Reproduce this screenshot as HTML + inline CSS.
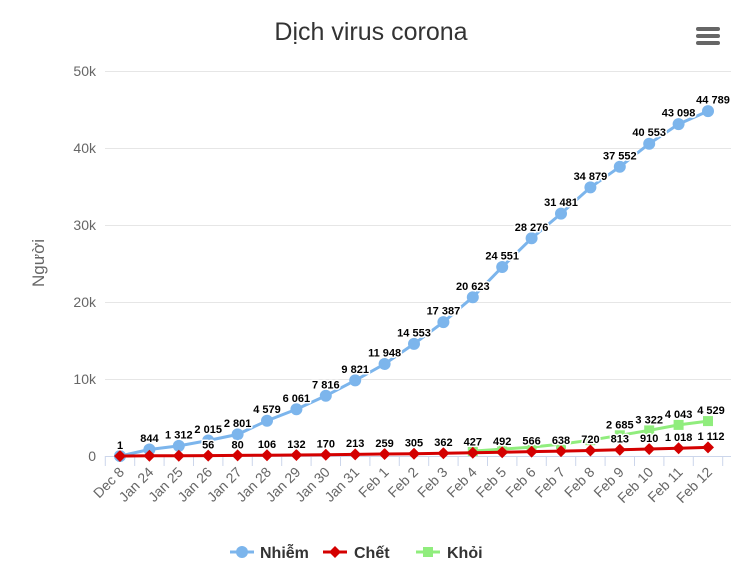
<!DOCTYPE html>
<html><head><meta charset="utf-8"><style>
body{margin:0;background:#fff;width:740px;height:576px;overflow:hidden}
svg{display:block;font-family:"Liberation Sans",sans-serif}
.dl{font-size:11px;font-weight:bold;fill:#000;stroke:#fff;stroke-width:3px;paint-order:stroke;stroke-linejoin:round;text-anchor:middle}
.yl{font-size:14px;fill:#666;text-anchor:end}
.xl{font-size:14px;fill:#666;text-anchor:end}
.lg{font-size:16px;font-weight:bold;fill:#333}
</style></head><body>
<svg width="740" height="576" viewBox="0 0 740 576">
<text x="371" y="40" text-anchor="middle" font-size="25" fill="#333">Dịch virus corona</text>
<g fill="#666"><rect x="696" y="27" width="24" height="4" rx="2"/><rect x="696" y="34" width="24" height="4" rx="2"/><rect x="696" y="41" width="24" height="4" rx="2"/></g>
<g stroke="#e6e6e6" stroke-width="1">
<line x1="105" x2="731" y1="71.5" y2="71.5"/><line x1="105" x2="731" y1="148.5" y2="148.5"/><line x1="105" x2="731" y1="225.5" y2="225.5"/><line x1="105" x2="731" y1="302.5" y2="302.5"/><line x1="105" x2="731" y1="379.5" y2="379.5"/>
</g>
<line x1="105" x2="731" y1="456.5" y2="456.5" stroke="#ccd6eb"/>
<g stroke="#ccd6eb">
<path d="M105.3 456v10M134.7 456v10M164.1 456v10M193.5 456v10M222.9 456v10M252.3 456v10M281.7 456v10M311.1 456v10M340.5 456v10M369.9 456v10M399.3 456v10M428.7 456v10M458.1 456v10M487.5 456v10M516.9 456v10M546.3 456v10M575.7 456v10M605.1 456v10M634.5 456v10M663.9 456v10M693.3 456v10M722.7 456v10"/>
</g>
<text class="yl" x="96" y="76">50k</text><text class="yl" x="96" y="153">40k</text><text class="yl" x="96" y="230">30k</text><text class="yl" x="96" y="307">20k</text><text class="yl" x="96" y="384">10k</text><text class="yl" x="96" y="461">0</text>
<text x="44" y="263" transform="rotate(-90 44 263)" text-anchor="middle" font-size="17" fill="#666">Người</text>
<g class="xl">
<text transform="translate(125,473) rotate(-45)">Dec 8</text>
<text transform="translate(154.4,473) rotate(-45)">Jan 24</text>
<text transform="translate(183.8,473) rotate(-45)">Jan 25</text>
<text transform="translate(213.2,473) rotate(-45)">Jan 26</text>
<text transform="translate(242.6,473) rotate(-45)">Jan 27</text>
<text transform="translate(272,473) rotate(-45)">Jan 28</text>
<text transform="translate(301.4,473) rotate(-45)">Jan 29</text>
<text transform="translate(330.8,473) rotate(-45)">Jan 30</text>
<text transform="translate(360.2,473) rotate(-45)">Jan 31</text>
<text transform="translate(389.6,473) rotate(-45)">Feb 1</text>
<text transform="translate(419,473) rotate(-45)">Feb 2</text>
<text transform="translate(448.4,473) rotate(-45)">Feb 3</text>
<text transform="translate(477.8,473) rotate(-45)">Feb 4</text>
<text transform="translate(507.2,473) rotate(-45)">Feb 5</text>
<text transform="translate(536.6,473) rotate(-45)">Feb 6</text>
<text transform="translate(566,473) rotate(-45)">Feb 7</text>
<text transform="translate(595.4,473) rotate(-45)">Feb 8</text>
<text transform="translate(624.8,473) rotate(-45)">Feb 9</text>
<text transform="translate(654.2,473) rotate(-45)">Feb 10</text>
<text transform="translate(683.6,473) rotate(-45)">Feb 11</text>
<text transform="translate(713,473) rotate(-45)">Feb 12</text>
</g>
<!-- blue -->
<polyline fill="none" stroke="#7cb5ec" stroke-width="3" points="120,456 149.4,449.5 178.8,445.9 208.2,440.5 237.6,434.4 267,420.7 296.4,409.3 325.8,395.8 355.2,380.4 384.6,364 414,343.9 443.4,322.1 472.8,297.2 502.2,267 531.6,238.3 561,213.6 590.4,187.4 619.8,166.8 649.2,143.7 678.6,124.1 708,111.1"/>
<g fill="#7cb5ec">
<circle cx="120" cy="456" r="6"/><circle cx="149.4" cy="449.5" r="6"/><circle cx="178.8" cy="445.9" r="6"/><circle cx="208.2" cy="440.5" r="6"/><circle cx="237.6" cy="434.4" r="6"/><circle cx="267" cy="420.7" r="6"/><circle cx="296.4" cy="409.3" r="6"/><circle cx="325.8" cy="395.8" r="6"/><circle cx="355.2" cy="380.4" r="6"/><circle cx="384.6" cy="364" r="6"/><circle cx="414" cy="343.9" r="6"/><circle cx="443.4" cy="322.1" r="6"/><circle cx="472.8" cy="297.2" r="6"/><circle cx="502.2" cy="267" r="6"/><circle cx="531.6" cy="238.3" r="6"/><circle cx="561" cy="213.6" r="6"/><circle cx="590.4" cy="187.4" r="6"/><circle cx="619.8" cy="166.8" r="6"/><circle cx="649.2" cy="143.7" r="6"/><circle cx="678.6" cy="124.1" r="6"/><circle cx="708" cy="111.1" r="6"/>
</g>
<!-- green -->
<polyline fill="none" stroke="#90ed7d" stroke-width="3" points="472.8,451.1 502.2,449.1 531.6,447.1 561,444.1 590.4,440.2 619.8,435.3 649.2,430.4 678.6,424.9 708,421.1"/>
<g fill="#90ed7d">
<rect x="467.8" y="446.1" width="10" height="10"/><rect x="497.2" y="444.1" width="10" height="10"/><rect x="526.6" y="442.1" width="10" height="10"/><rect x="556" y="439.1" width="10" height="10"/><rect x="585.4" y="435.2" width="10" height="10"/><rect x="614.8" y="430.3" width="10" height="10"/><rect x="644.2" y="425.4" width="10" height="10"/><rect x="673.6" y="419.9" width="10" height="10"/><rect x="703" y="416.1" width="10" height="10"/>
</g>
<!-- red -->
<polyline fill="none" stroke="#d40000" stroke-width="3" points="120,456 149.4,455.8 178.8,455.7 208.2,455.6 237.6,455.4 267,455.2 296.4,455 325.8,454.7 355.2,454.4 384.6,454 414,453.7 443.4,453.2 472.8,452.7 502.2,452.2 531.6,451.6 561,451.1 590.4,450.5 619.8,449.7 649.2,449 678.6,448.2 708,447.4"/>
<g fill="#d40000">
<path d="M120 450l6 6-6 6-6-6zM149.4 449.8l6 6-6 6-6-6zM178.8 449.7l6 6-6 6-6-6zM208.2 449.6l6 6-6 6-6-6zM237.6 449.4l6 6-6 6-6-6zM267 449.2l6 6-6 6-6-6zM296.4 449l6 6-6 6-6-6zM325.8 448.7l6 6-6 6-6-6zM355.2 448.4l6 6-6 6-6-6zM384.6 448l6 6-6 6-6-6zM414 447.7l6 6-6 6-6-6zM443.4 447.2l6 6-6 6-6-6zM472.8 446.7l6 6-6 6-6-6zM502.2 446.2l6 6-6 6-6-6zM531.6 445.6l6 6-6 6-6-6zM561 445.1l6 6-6 6-6-6zM590.4 444.5l6 6-6 6-6-6zM619.8 443.7l6 6-6 6-6-6zM649.2 443l6 6-6 6-6-6zM678.6 442.2l6 6-6 6-6-6zM708 441.4l6 6-6 6-6-6z"/>
</g>
<!-- labels -->
<g class="dl">
<text x="149.4" y="442">844</text><text x="178.8" y="438.5">1 312</text><text x="208.2" y="433">2 015</text><text x="237.6" y="427">2 801</text><text x="267" y="413">4 579</text><text x="296.4" y="402">6 061</text><text x="325.8" y="388.5">7 816</text><text x="355.2" y="373">9 821</text><text x="384.6" y="356.5">11 948</text><text x="414" y="336.5">14 553</text><text x="443.4" y="314.5">17 387</text><text x="472.8" y="290">20 623</text><text x="502.2" y="259.5">24 551</text><text x="531.6" y="231">28 276</text><text x="561" y="206">31 481</text><text x="590.4" y="180">34 879</text><text x="619.8" y="159.5">37 552</text><text x="649.2" y="136">40 553</text><text x="678.6" y="116.5">43 098</text><text x="713" y="103.5">44 789</text>
<text x="120" y="449">1</text><text x="208.2" y="448.5">56</text><text x="237.6" y="448.5">80</text><text x="267" y="448">106</text><text x="296.4" y="448">132</text><text x="325.8" y="447.5">170</text><text x="355.2" y="447">213</text><text x="384.6" y="447">259</text><text x="414" y="446.5">305</text><text x="443.4" y="446">362</text><text x="472.8" y="445.5">427</text><text x="502.2" y="445">492</text><text x="531.6" y="444.5">566</text><text x="561" y="444">638</text><text x="590.4" y="443">720</text><text x="619.8" y="442.5">813</text><text x="649.2" y="442">910</text><text x="678.6" y="441">1 018</text><text x="711" y="440">1 112</text>
<text x="619.8" y="428.5">2 685</text><text x="649.2" y="423.5">3 322</text><text x="678.6" y="418">4 043</text><text x="711" y="414">4 529</text>
</g>
<!-- legend -->
<line x1="230" x2="254" y1="552" y2="552" stroke="#7cb5ec" stroke-width="3"/><circle cx="242" cy="552" r="6" fill="#7cb5ec"/>
<text class="lg" x="260" y="558">Nhiễm</text>
<line x1="323" x2="347" y1="552" y2="552" stroke="#d40000" stroke-width="3"/><path d="M335 546l6 6-6 6-6-6z" fill="#d40000"/>
<text class="lg" x="354" y="558">Chết</text>
<line x1="416" x2="440" y1="552" y2="552" stroke="#90ed7d" stroke-width="3"/><rect x="423" y="547" width="10" height="10" fill="#90ed7d"/>
<text class="lg" x="447" y="558">Khỏi</text>
</svg>
</body></html>
